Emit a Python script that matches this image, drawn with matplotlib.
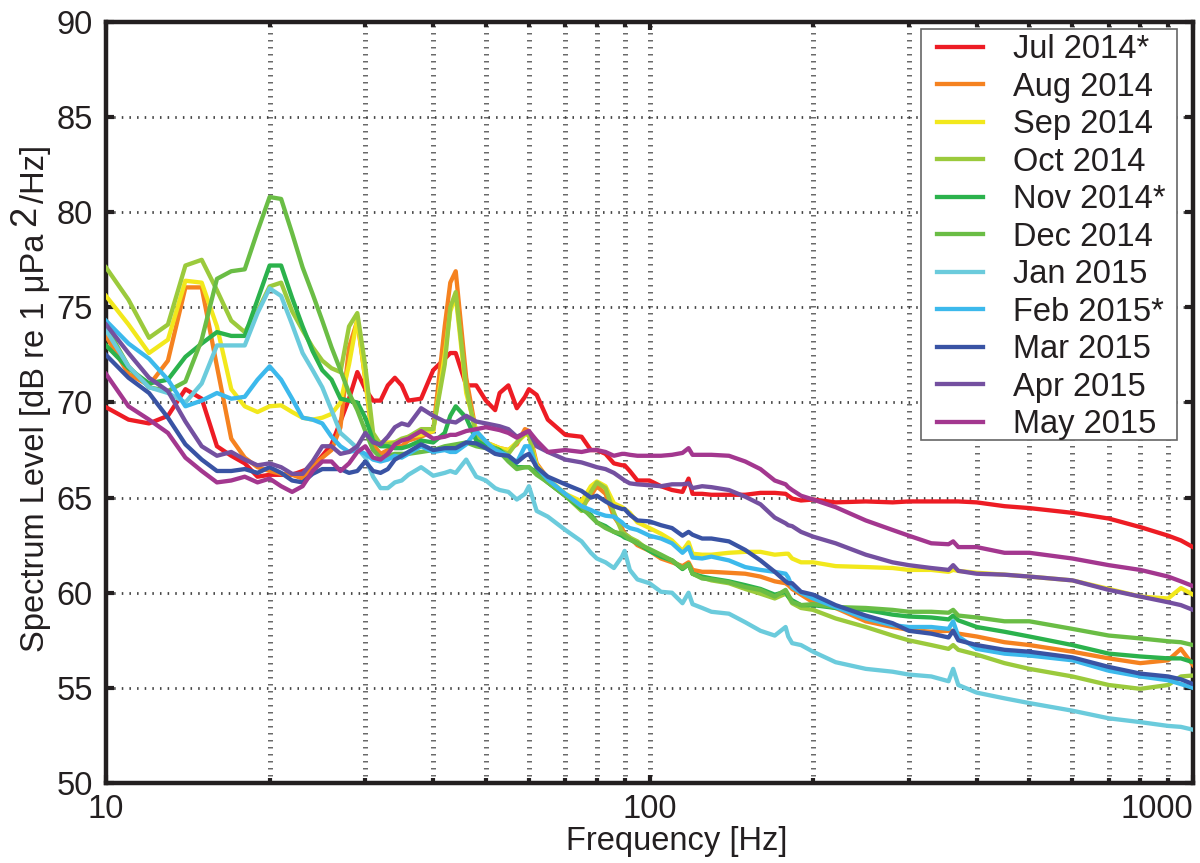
import matplotlib
matplotlib.use("Agg")
import matplotlib.pyplot as plt
from matplotlib.patches import Rectangle
from matplotlib.ticker import FixedLocator, FixedFormatter, NullFormatter

plt.rcParams['font.family'] = ['Liberation Sans', 'DejaVu Sans']

# frequency grid shared by all months [Hz]
freq = [10, 11, 12, 13, 14, 15, 16, 17, 18, 19, 20, 21, 22, 23, 24, 25, 26, 27, 28, 29, 30, 31, 32, 33, 34,
        35, 36, 38, 40, 42, 43, 44, 46, 48, 50, 52, 53, 55, 57, 59, 60, 62, 65, 70, 75,
        78, 80, 83, 86, 89, 90, 92, 95, 100, 105, 110, 115, 118, 120,
        125, 130, 140, 150, 160, 170, 178, 180, 183, 190, 200, 220, 250, 280, 300, 330, 355, 362, 370,
        400, 450, 500, 600, 700, 800, 900, 950, 1000]

jul_2014 = [69.75, 69.1, 68.9, 69.3, 70.7, 70.2, 67.7, 67.2, 66.8, 66.1, 66.2, 66.2, 66.2, 66.4, 66.6, 67.2, 67.8, 69, 70.2, 71.6, 70.7, 70.1, 70.1, 70.9, 71.3,
            70.9, 70.1, 70.2, 71.7, 72.3, 72.6, 72.6, 70.9, 70.9, 70.1, 69.6, 70.5, 70.9, 69.7, 70.3, 70.7, 70.4, 69.1, 68.3, 68.2,
            67.5, 67.5, 67.3, 66.8, 66.7, 66.7, 66.4, 65.9, 65.9, 65.6, 65.4, 65.3, 66, 65.2,
            65.2, 65.15, 65.15, 65.15, 65.25, 65.25, 65.2, 65.1, 64.95, 64.85, 64.9, 64.75, 64.8, 64.75, 64.8, 64.8, 64.8, 64.8, 64.8,
            64.75, 64.55, 64.45, 64.2, 63.9, 63.45, 63, 62.75, 62.4]
aug_2014 = [73.5, 71.5, 70.9, 72.2, 76.05, 76.05, 71.9, 68.1, 67.1, 66.6, 66.4, 66.25, 66.2, 66, 66.6, 67.1, 67.5, 68.7, 72.9, 74.3, 71.2, 67.8, 67.3, 67.5, 67.7,
            67.7, 68, 68.2, 68.5, 74, 76.3, 76.9, 71.3, 68.4, 67.9, 67.7, 67.6, 67.5, 67.8, 68.6, 68.5, 66.8, 66, 65.1, 64.5,
            65.1, 65.6, 65.2, 64, 63.4, 63.1, 62.9, 62.5, 62.2, 61.8, 61.6, 61.4, 61.6, 61.2,
            61.1, 61.1, 61.05, 61, 60.85, 60.6, 60.5, 60.4, 60.2, 59.9, 59.5, 59.2, 58.5, 58.2, 58.05, 57.95, 58, 58, 57.85,
            57.7, 57.4, 57.25, 56.9, 56.55, 56.3, 56.45, 57.05, 56.2]
sep_2014 = [75.6, 74.1, 72.6, 73.3, 76.4, 76.3, 74, 70.7, 69.8, 69.5, 69.8, 69.85, 69.5, 69.2, 69.1, 69.2, 69.4, 70, 72, 74.4, 71.2, 68, 67.9, 67.9, 67.9,
            68, 68.2, 68.3, 68.5, 72.5, 74.8, 75.6, 70.5, 68.5, 67.9, 67.7, 67.6, 67.5, 67.9, 68.3, 68.3, 66.7, 66, 65.2, 64.8,
            65.6, 65.85, 65.6, 64.7, 64.5, 64.4, 64.2, 63.7, 63.4, 63.1, 62.75, 62.2, 62.65, 62.05,
            62, 62, 62.1, 62.15, 62.15, 62, 62.05, 62.05, 61.8, 61.6, 61.6, 61.4, 61.35, 61.3, 61.2, 61.2, 61.1, 61.2, 61.15,
            61.05, 60.95, 60.85, 60.65, 60.2, 59.8, 59.7, 60.25, 59.9]
oct_2014 = [77.1, 75.4, 73.4, 74.1, 77.2, 77.5, 75.9, 74.3, 73.7, 74.8, 76.1, 76.3, 74.8, 73.8, 72.9, 72.2, 71.8, 71.6, 74, 74.7, 71.9, 68.4, 67.8, 67.8, 67.9,
            68.1, 68.2, 68.6, 68.6, 72, 75, 75.8, 70.8, 68.2, 67.8, 67.6, 67.5, 67.3, 67.9, 68.4, 68.3, 66.4, 65.8, 65.1, 64.3,
            65.3, 65.8, 65.5, 64.2, 63.2, 63.1, 62.9, 62.7, 62.2, 61.9, 61.7, 61.25, 61.5, 61,
            60.8, 60.65, 60.5, 60.2, 59.95, 59.7, 59.95, 59.8, 59.45, 59.2, 59.1, 58.65, 58.2, 57.75, 57.5, 57.25, 57.05, 57.25, 57,
            56.75, 56.3, 56, 55.6, 55.15, 54.95, 55.15, 55.6, 55.65]
nov_2014 = [73, 71.8, 71, 71.2, 72.4, 73.1, 73.7, 73.5, 73.5, 75.4, 77.2, 77.2, 75.5, 74, 72.7, 71.7, 71.2, 70.2, 70.1, 70, 69.2, 68, 67.7, 67.7, 67.6,
            67.6, 67.7, 68, 67.9, 68.4, 69.3, 69.8, 69.2, 68, 67.7, 67.6, 67.5, 67.1, 66.6, 66.6, 66.6, 66.3, 65.8, 65.1, 64.4,
            64.1, 63.7, 63.5, 63.2, 63, 62.9, 62.8, 62.6, 62.2, 61.9, 61.7, 61.25, 61.5, 61,
            60.85, 60.75, 60.6, 60.4, 60.2, 59.9, 60.05, 59.8, 59.6, 59.35, 59.35, 59.2, 59.1, 58.85, 58.75, 58.7, 58.6, 58.8, 58.55,
            58.2, 57.95, 57.7, 57.25, 56.8, 56.65, 56.55, 56.55, 56.35]
dec_2014 = [74, 71.9, 70.8, 70.6, 71.1, 73.3, 76.5, 76.9, 77, 79, 80.8, 80.7, 78.9, 77.1, 75.7, 74.3, 72.9, 71.7, 70.5, 69.6, 68.5, 67.5, 67.1, 67.2, 67.3,
            67.3, 67.3, 67.4, 67.5, 67.7, 67.75, 67.8, 67.9, 67.7, 67.6, 67.6, 67.4, 66.9, 66.5, 66.6, 66.6, 66.2, 65.8, 65.1, 64.5,
            64, 63.7, 63.4, 63.2, 63.1, 63, 62.8, 62.6, 62.3, 62, 61.7, 61.3, 61.5, 61,
            60.75, 60.7, 60.55, 60.3, 60.15, 59.8, 60.15, 59.9, 59.5, 59.35, 59.4, 59.25, 59.2, 59.1, 59, 59, 58.95, 59.1, 58.8,
            58.7, 58.5, 58.5, 58.1, 57.75, 57.6, 57.45, 57.4, 57.25]
jan_2015 = [73.8, 71.9, 70.8, 70.5, 70, 71, 73, 73, 73, 74.7, 76, 75.6, 74.1, 72.6, 71.7, 70.8, 69.6, 68.4, 68, 67.6, 67.1, 66.1, 65.5, 65.5, 65.8,
            65.9, 66.2, 66.6, 66.15, 66.3, 66.4, 66.3, 67, 66.1, 65.9, 65.5, 65.4, 65.3, 64.9, 65.2, 65.6, 64.3, 64, 63.3, 62.7,
            62.1, 61.8, 61.6, 61.3, 61.9, 62.2, 61.2, 60.7, 60.5, 60.05, 60, 59.45, 60, 59.4,
            59.2, 59, 58.9, 58.45, 58, 57.75, 58.2, 57.7, 57.35, 57.25, 56.9, 56.35, 56, 55.85, 55.7, 55.6, 55.35, 56, 55.15,
            54.75, 54.45, 54.2, 53.8, 53.4, 53.2, 53, 52.95, 52.8]
feb_2015 = [74.3, 73.1, 72.3, 71.2, 69.8, 70.1, 70.5, 70.2, 70.3, 71.2, 71.9, 71.2, 70.2, 69.2, 69.1, 68.9, 68.2, 67.7, 67.4, 67.5, 67.3, 67, 66.9, 67, 67.2,
            67.1, 67.3, 67.7, 67.4, 67.5, 67.4, 67.4, 67.8, 68.5, 67.95, 67.5, 67.4, 67.2, 66.85, 67.7, 67.7, 66.6, 65.95, 65.2, 64.55,
            64.35, 64.2, 64.05, 64, 63.7, 63.55, 63.4, 63.3, 63, 62.85, 62.6, 62.1, 62.4, 61.85,
            61.8, 61.9, 61.7, 61.35, 61.2, 61.1, 61, 60.8, 60.3, 60, 59.7, 59.25, 58.65, 58.3, 58.2, 58.2, 58.1, 58.5, 57.7,
            57.05, 56.8, 56.7, 56.45, 55.9, 55.6, 55.4, 55.2, 55]
mar_2015 = [72.5, 71.3, 70.5, 69.2, 67.8, 67, 66.4, 66.4, 66.5, 66.3, 66.6, 66.3, 65.9, 65.8, 66.25, 66.5, 66.5, 66.5, 66.3, 66.4, 66.9, 66.4, 66.3, 66.5, 67,
            67.2, 67.4, 67.8, 67.5, 67.6, 67.6, 67.6, 67.9, 67.85, 67.6, 67.3, 67.25, 67.2, 66.85, 67.2, 67.3, 66.6, 66.1, 65.7, 65.35,
            65, 65.1, 64.8, 64.55, 64.4, 64.4, 64.1, 63.8, 63.75, 63.55, 63.4, 63, 63.2, 63.05,
            62.85, 62.85, 62.7, 62.25, 61.7, 61.1, 60.6, 60.5, 60.5, 60.05, 59.9, 59.35, 58.8, 58.4, 58, 57.85, 57.65, 58, 57.5,
            57.25, 57, 56.9, 56.6, 56.1, 55.75, 55.6, 55.45, 55.2]
apr_2015 = [74.1, 72.6, 71.3, 70.6, 69, 67.7, 67.2, 67.4, 67, 66.7, 66.8, 66.6, 66.25, 66.25, 66.9, 67.7, 67.7, 67.3, 67.4, 67.7, 68.4, 67.9, 67.8, 68.2, 68.7,
            68.9, 68.8, 69.7, 69.3, 69, 69, 68.95, 69.3, 69, 68.9, 68.8, 68.75, 68.6, 68.2, 68.4, 68.5, 67.7, 67.4, 67, 66.85,
            66.7, 66.6, 66.5, 66.3, 66, 65.9, 65.75, 65.7, 65.65, 65.6, 65.7, 65.7, 65.75, 65.5,
            65.6, 65.55, 65.4, 65.05, 64.65, 63.95, 63.65, 63.55, 63.5, 63.2, 62.95, 62.6, 62, 61.6, 61.45, 61.3, 61.2, 61.45, 61.15,
            61, 60.95, 60.85, 60.65, 60.15, 59.8, 59.5, 59.35, 59.1]
may_2015 = [71.5, 69.8, 69.1, 68.4, 67.1, 66.4, 65.8, 65.9, 66.1, 65.8, 66, 65.6, 65.3, 65.6, 66.4, 66.9, 66.9, 66.4, 66.8, 67.4, 67.7, 67.1, 67, 67.3, 67.8,
            68, 68.1, 68.5, 68.1, 68.2, 68.3, 68.3, 68.5, 68.6, 68.7, 68.6, 68.55, 68.4, 68.15, 68.4, 68.5, 68, 67.4, 67.5, 67.4,
            67.5, 67.5, 67.4, 67.2, 67.3, 67.3, 67.25, 67.2, 67.2, 67.2, 67.25, 67.35, 67.6, 67.25,
            67.25, 67.25, 67.2, 66.9, 66.5, 65.9, 65.7, 65.55, 65.4, 65.1, 64.9, 64.5, 63.8, 63.3, 63, 62.6, 62.55, 62.7, 62.4,
            62.4, 62.1, 62.1, 61.8, 61.45, 61.2, 60.85, 60.6, 60.35]

months = ['Jul 2014*', 'Aug 2014', 'Sep 2014', 'Oct 2014', 'Nov 2014*', 'Dec 2014',
          'Jan 2015', 'Feb 2015*', 'Mar 2015', 'Apr 2015', 'May 2015']
series = [jul_2014, aug_2014, sep_2014, oct_2014, nov_2014, dec_2014,
          jan_2015, feb_2015, mar_2015, apr_2015, may_2015]
colors = ['#ed1c24', '#f58220', '#f2e81c', '#9bca3c', '#2bb24c', '#6abd45',
          '#6bcbdc', '#3cb9ec', '#3953a4', '#7450a0', '#a3378f']

x_ticks = [10, 100, 1000]
x_minor = [20, 30, 40, 50, 60, 70, 80, 90, 200, 300, 400, 500, 600, 700, 800, 900]
y_ticks = [50, 55, 60, 65, 70, 75, 80, 85, 90]

ink = '#231f20'
W, H = 1200, 863
fig = plt.figure(figsize=(W / 100, H / 100), dpi=100)
ax = fig.add_axes([106 / W, 1 - 783 / H, (1193 - 106) / W, (783 - 22) / H])

for values, label, color in zip(series, months, colors):
    ax.plot(freq, values, color=color, lw=3.1, label=label, solid_joinstyle='round', zorder=3)

ax.set_xscale('log')
ax.set_xlim(10, 1000)
ax.set_ylim(50, 90)
ax.xaxis.set_major_locator(FixedLocator(x_ticks))
ax.xaxis.set_major_formatter(FixedFormatter([str(t) for t in x_ticks]))
ax.xaxis.set_minor_locator(FixedLocator(x_minor))
ax.xaxis.set_minor_formatter(NullFormatter())
ax.set_yticks(y_ticks)

# dotted grid: the reference has short thick marks, different in each direction
ax.grid(True, axis='y', which='major', color='#444444', lw=2.0, linestyle=(0, (0.55, 2.2)), dash_capstyle='butt', zorder=1)
for f in x_minor + [100]:
    ax.axvline(f, color='#6a6a6a', lw=3.6, linestyle=(0, (0.3, 1.1)), dash_capstyle='butt', zorder=1)

ax.tick_params(axis='both', which='major', direction='in', length=6, width=3, top=True, right=True,
               labelsize=23.5, labelcolor=ink, color=ink)
ax.tick_params(axis='x', which='major', pad=8)
ax.tick_params(axis='y', which='major', pad=9.5)
ax.tick_params(axis='x', which='minor', direction='in', length=3.5, width=3, top=True, color=ink)
for spine in ax.spines.values():
    spine.set_linewidth(3.2)
    spine.set_color(ink)

# the last label is pulled inside so it ends at the axis edge
ax.get_xticklabels()[-1].set_ha('right')

ax.set_xlabel('Frequency [Hz]', fontsize=23.5, color=ink, va='baseline')
ax.xaxis.set_label_coords((677 - 106) / (1193 - 106), -(850 - 783) / (783 - 22))

# y label in three pieces, the raised 2 is nearly full size in the reference
label_parts = [('Spectrum Level [dB re 1 μPa', 44, 652, 23.5), ('2', 35, 226, 26), ('/Hz]', 44, 203, 23.5)]
for part, px, py, size in label_parts:
    fig.text(px / W, 1 - py / H, part, fontsize=size, color=ink, rotation=90,
             rotation_mode='anchor', ha='left', va='baseline')

# legend box drawn apart: its padding is wider at the sides than at the top
ax.add_patch(Rectangle((921 / W, 1 - 440 / H), (1177 - 921) / W, (440 - 29) / H, transform=fig.transFigure,
                       facecolor='white', edgecolor='#666666', lw=1.2, zorder=4))
leg = ax.legend(loc='upper left', bbox_to_anchor=(937 / W, 1 - 34 / H), bbox_transform=fig.transFigure,
                borderaxespad=0, borderpad=0, fontsize=23.5, frameon=False,
                handlelength=1.41, handletextpad=0.92, labelspacing=0.2)
leg.set_zorder(5)
for text in leg.get_texts():
    text.set_color(ink)

fig.savefig('out.png', dpi=100)
